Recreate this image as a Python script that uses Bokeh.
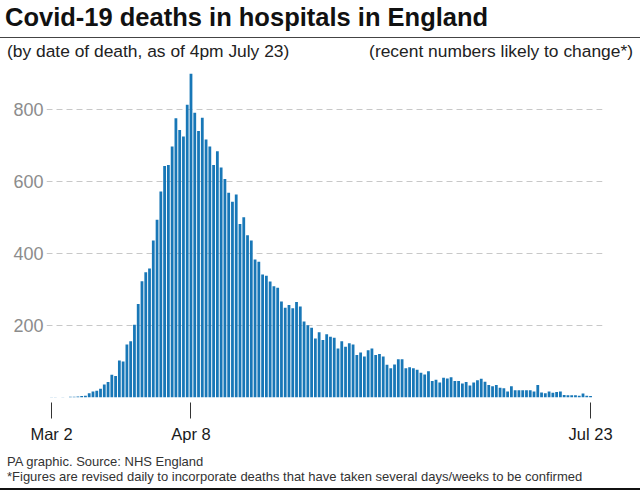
from bokeh.plotting import figure
from bokeh.layouts import column
from bokeh.models import Range1d, FixedTicker, ColumnDataSource, Div
from bokeh.embed import file_html
from bokeh.resources import INLINE

# ---- data (daily deaths, Mar 2 .. Jul 23) ----
deaths = [
    1, 1, 0, 1, 0, 2, 2, 3, 4,
    5, 12, 17, 19, 24, 36, 43, 63, 60, 103, 100, 147, 156, 202, 260, 323, 348, 358,
    436, 494, 572, 643, 646, 697, 776, 743, 725, 813, 899,
    791, 740, 777, 717, 697, 646, 684, 639, 607, 569, 544, 564, 482, 501, 451, 436,
    383, 377, 342, 338,
    322, 309, 305, 267, 249, 257, 248, 265, 253, 211, 201, 194, 164, 181, 160, 176,
    169, 166, 136, 156, 141, 151, 147, 118, 125, 114, 131, 136, 118, 121, 114, 91,
    81, 92, 106, 106, 81, 84, 81, 77, 69, 64, 73, 46, 49, 42, 55, 53, 56, 46, 46,
    39, 43, 33, 42, 48, 52, 44, 35, 31, 35,
    27, 26, 17, 31, 20, 20, 20, 20, 20, 17, 35, 14, 12, 17, 13, 15, 17, 7, 6, 6,
    6, 5, 11, 5, 4,
]
day_index = list(range(len(deaths)))
x_tick_days = [0, 37, 143]
x_tick_labels = ["Mar 2", "Apr 8", "Jul 23"]
y_ticks = [200, 400, 600, 800]

title_text = "Covid-19 deaths in hospitals in England"
subtitle_left = "(by date of death, as of 4pm July 23)"
subtitle_right = "(recent numbers likely to change*)"
footer1 = "PA graphic. Source: NHS England"
footer2 = "*Figures are revised daily to incorporate deaths that have taken several days/weeks to be confirmed"

FONT = "Liberation Sans"
W = 640
TITLE_H, SUB_H, MAIN_H, FOOT_H = 39, 25, 386, 41


def abs_text(text, x, baseline, size, color="#1a1a1a", weight="normal", align="left"):
    top = baseline - 0.8465 * size
    pos = f"left:{x}px;" if align == "left" else f"right:{W - x}px;"
    return (f'<div style="position:absolute;{pos}top:{top:.1f}px;'
            f"font-family:'{FONT}';font-size:{size}px;font-weight:{weight};"
            f'line-height:1;color:{color};white-space:nowrap;">{text}</div>')


def rule(top, height, color):
    return (f'<div style="position:absolute;left:0;top:0;width:{W}px;'
            f'height:{top}px;box-sizing:content-box;'
            f'border-bottom:{height}px solid {color};"></div>')


def panel(height, parts):
    html = (f'<div style="position:relative;width:{W}px;height:{height}px;'
            f'overflow:hidden;margin:0;padding:0;">' + "".join(parts) + "</div>")
    return Div(text=html, width=W, height=height, margin=0)


# ---- header: title with rule below, then subtitles ----
title_panel = panel(TITLE_H, [
    abs_text(title_text, 5, 27, 25.5, color="#111111", weight="bold"),
    rule(37.3, 1.5, "#444444"),
])
sub_panel = panel(SUB_H, [
    abs_text(subtitle_left, 7, 57.5 - TITLE_H, 17.4, color="#222222"),
    abs_text(subtitle_right, 633, 57.5 - TITLE_H, 17.4, color="#222222", align="right"),
])

# ---- main chart ----
ML, MR, MT, MB = 46, 38, 1, 53
FH = MAIN_H - MT - MB
p = figure(width=W, height=MAIN_H, output_backend="svg", toolbar_location=None,
           x_range=Range1d(-1.33, 146.17), y_range=Range1d(0, FH / 0.36),
           min_border_left=ML, min_border_right=MR, min_border_top=MT,
           min_border_bottom=MB)
p.outline_line_color = None

src = ColumnDataSource(dict(day=day_index, deaths=deaths))
p.vbar(x="day", top="deaths", width=0.74, source=src,
       fill_color="#1877b7", line_color=None)

p.xaxis.ticker = FixedTicker(ticks=x_tick_days)
p.xaxis.major_label_overrides = {d: l for d, l in zip(x_tick_days, x_tick_labels)}
p.xaxis.axis_line_color = None
p.xaxis.minor_tick_line_color = None
p.xaxis.major_tick_in = -5
p.xaxis.major_tick_out = 21
p.xaxis.major_tick_line_color = "#333333"
p.xaxis.major_label_standoff = 6
p.xaxis.major_label_text_font = FONT
p.xaxis.major_label_text_font_size = "16.5px"
p.xaxis.major_label_text_color = "#1a1a1a"

p.yaxis.ticker = FixedTicker(ticks=y_ticks)
p.yaxis.axis_line_color = None
p.yaxis.major_tick_line_color = None
p.yaxis.minor_tick_line_color = None
p.yaxis.major_tick_in = 0
p.yaxis.major_tick_out = 0
p.yaxis.major_label_standoff = 3
p.yaxis.major_label_text_font = FONT
p.yaxis.major_label_text_font_size = "18px"
p.yaxis.major_label_text_color = "#8c8c8c"

p.xgrid.grid_line_color = None
p.ygrid.grid_line_color = "#c8c8c8"
p.ygrid.grid_line_dash = "6 4"

# ---- footer ----
foot = panel(FOOT_H, [
    abs_text(footer1, 7, 16, 13, color="#333333"),
    abs_text(footer2, 7, 31, 13, color="#333333"),
    rule(37.7, 2.6, "#111111"),
])

layout = column(title_panel, sub_panel, p, foot, spacing=0)
open("out.html", "w").write(file_html(layout, INLINE))
